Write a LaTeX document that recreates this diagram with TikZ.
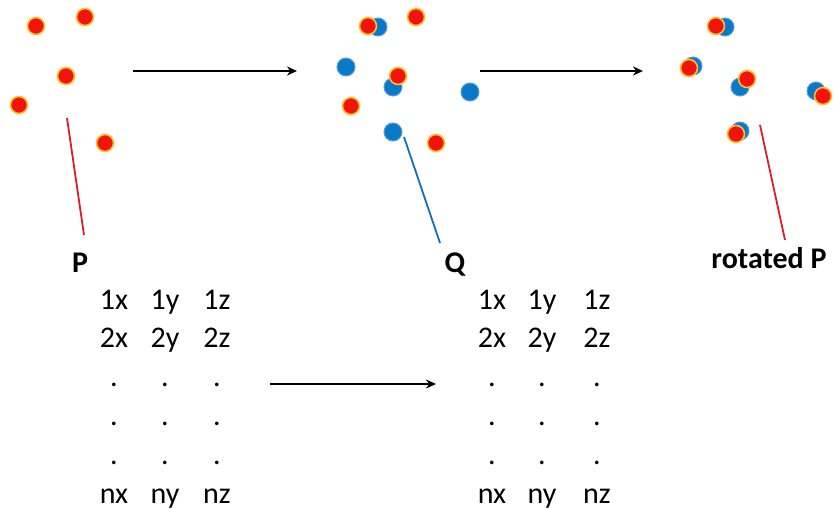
\documentclass[tikz,border=0pt]{standalone}
\usepackage{fontspec}
\setmainfont{Carlito}
\usetikzlibrary{arrows.meta}
\definecolor{cRed}{RGB}{240,20,10}
\definecolor{cRim}{RGB}{255,190,40}
\definecolor{cBlue}{RGB}{10,120,200}
\definecolor{cLineRed}{RGB}{220,30,40}
\definecolor{cLineBlue}{RGB}{20,110,190}
\tikzset{
    pdot/.style={circle, fill=cRed, draw=cRim, line width=0.8pt,
        minimum size=8.5pt, inner sep=0pt},
    qdot/.style={circle, fill=cBlue, draw=cBlue!70!white, line width=0.5pt,
        minimum size=9pt, inner sep=0pt},
    arr/.style={-{Stealth[length=5pt,width=4.5pt]}, line width=1pt, black},
    ptr/.style={line width=0.9pt, #1},
    lbl/.style={font=\fontsize{15}{18}\selectfont\bfseries, anchor=base},
    cell/.style={font=\fontsize{15}{18}\selectfont, anchor=base},
}

\begin{document}
\begin{tikzpicture}[x=0.5pt, y=0.5pt]
\useasboundingbox (0,0) rectangle (834,-508);

% ================================================================
%  LEFT — point set P
% ================================================================
\node[pdot] (p1) at (36,-26) {};
\node[pdot] (p2) at (85,-17) {};
\node[pdot] (p3) at (66,-76) {};
\node[pdot] (p4) at (19,-105) {};
\node[pdot] (p5) at (105,-143) {};

\node[lbl] (plbl) at (80,-272) {P};
\coordinate (ptop) at (67,-118);
\coordinate (pbot) at (84,-235);
\draw[ptr=cLineRed] (ptop) -- (pbot);

% ================================================================
%  MIDDLE — P over Q
% ================================================================
\node[qdot] (q1) at (378,-27) {};
\node[qdot] (q2) at (346,-67) {};
\node[qdot] (q3) at (393,-87) {};
\node[qdot] (q4) at (470,-92) {};
\node[qdot] (q5) at (393,-132) {};
\node[pdot] (m1) at (368,-26) {};
\node[pdot] (m2) at (416,-17) {};
\node[pdot] (m3) at (398,-76) {};
\node[pdot] (m4) at (351,-106) {};
\node[pdot] (m5) at (436,-143) {};

\node[lbl] (qlbl) at (455,-272) {Q};
\coordinate (qtop) at (404,-137);
\coordinate (qbot) at (440,-243);
\draw[ptr=cLineBlue] (qtop) -- (qbot);

% ================================================================
%  RIGHT — rotated P on Q
% ================================================================
\node[qdot] (r1) at (725,-27) {};
\node[qdot] (r2) at (693,-66) {};
\node[qdot] (r3) at (740,-87) {};
\node[qdot] (r4) at (816,-91) {};
\node[qdot] (r5) at (740,-131) {};
\node[pdot] (s1) at (716,-26) {};
\node[pdot] (s2) at (689,-68) {};
\node[pdot] (s3) at (747,-79) {};
\node[pdot] (s4) at (823,-96) {};
\node[pdot] (s5) at (736,-134) {};

\node[lbl] (rlbl) at (769,-268) {rotated P};
\coordinate (rtop) at (760,-125);
\coordinate (rbot) at (785,-240);
\draw[ptr=cLineRed] (rtop) -- (rbot);

% ── step arrows ──
\coordinate (a1s) at (133,-71);
\coordinate (a1e) at (297,-71);
\coordinate (a2s) at (480,-71);
\coordinate (a2e) at (643,-71);
\draw[arr] (a1s) -- (a1e);
\draw[arr] (a2s) -- (a2e);

% ================================================================
%  BOTTOM — coordinate tables
% ================================================================
\foreach \c/\xp/\xq in {x/114/492, y/165/542, z/217/597} {
    \foreach \r/\k in {1/0, 2/1, n/5} {
        \node[cell] (pc\r\c) at (\xp,-309-38.8*\k) {\r\c};
        \node[cell] (qc\r\c) at (\xq,-309-38.8*\k) {\r\c};
    }
    \foreach \k in {2,3,4} {
        \node[cell] (pd\k\c) at (\xp,-309-38.8*\k) {.};
        \node[cell] (qd\k\c) at (\xq,-309-38.8*\k) {.};
    }
}

\coordinate (a3s) at (270,-384);
\coordinate (a3e) at (436,-384);
\draw[arr] (a3s) -- (a3e);

\end{tikzpicture}
\end{document}
